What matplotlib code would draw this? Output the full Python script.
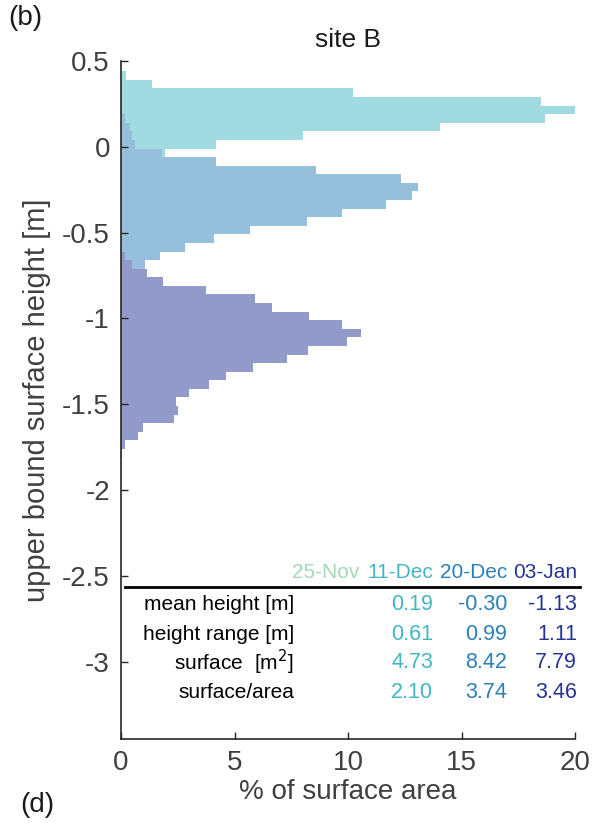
import numpy as np
import matplotlib
matplotlib.use("Agg")
import matplotlib.pyplot as plt

plt.rcParams['font.family'] = ['Liberation Sans', 'DejaVu Sans']

# ---------------- data ----------------
bin_top = 0.44          # upper edge of first height bin [m]
bin_width = 0.05        # height bin width [m]

dates = ["25-Nov", "11-Dec", "20-Dec", "03-Jan"]
date_colors = ["#a1dab4", "#41b6c4", "#2c7fb8", "#253494"]

# % of surface area per height bin (first bin index, values from top downward)
dec11_first_bin = 0
dec11_pct = [0.22, 1.37, 10.2, 18.5, 20.0, 18.7, 14.05, 8.0, 4.2, 1.94]

dec20_first_bin = 5
dec20_pct = [0.18, 0.40, 0.48, 0.62, 1.80, 4.20, 8.60, 12.33, 13.08, 12.82,
             11.67, 9.74, 8.20, 5.70, 4.10, 2.80, 1.70, 1.05]

jan03_first_bin = 21
jan03_pct = [0.18, 0.48, 1.15, 1.85, 3.74, 5.90, 6.65, 8.30, 9.74, 10.57,
             9.96, 8.24, 7.30, 5.80, 4.63, 3.88, 3.00, 2.42, 2.50, 2.33,
             0.97, 0.75, 0.18, 0.05]

row_labels = ["mean height [m]", "height range [m]", r"surface  [m$^2$]", "surface/area"]
dec11_stats = ["0.19", "0.61", "4.73", "2.10"]
dec20_stats = ["-0.30", "0.99", "8.42", "3.74"]
jan03_stats = ["-1.13", "1.11", "7.79", "3.46"]

xticks = [0, 5, 10, 15, 20]
yticks = [0.5, 0, -0.5, -1, -1.5, -2, -2.5, -3]
ytick_labels = ["0.5", "0", "-0.5", "-1", "-1.5", "-2", "-2.5", "-3"]

# ---------------- figure ----------------
fig = plt.figure(figsize=(5.92, 8.23), dpi=100)
ax = fig.add_axes([121/592, 1-739/823, 454/592, 678/823])

def light(c, a=0.5):
    rgb = np.array(matplotlib.colors.to_rgb(c))
    return tuple(rgb * a + (1 - a))

def draw_hist(first_bin, pct, color):
    idx = np.arange(first_bin, first_bin + len(pct))
    centers = bin_top - bin_width * (idx + 0.5)
    ax.barh(centers, pct, height=bin_width, color=light(color),
            edgecolor='none', align='center')

draw_hist(dec11_first_bin, dec11_pct, date_colors[1])
draw_hist(dec20_first_bin, dec20_pct, date_colors[2])
draw_hist(jan03_first_bin, jan03_pct, date_colors[3])

ax.set_xlim(0, 20)
ax.set_ylim(-3.45, 0.5)
ax.set_xticks(xticks)
ax.set_yticks(yticks)
ax.set_yticklabels(ytick_labels)
axcol = "#262626"
ax.tick_params(direction='in', length=5, width=1, colors=axcol, labelsize=20,
               labelcolor="#404040", pad=8)
for s in ['top', 'right']:
    ax.spines[s].set_visible(False)
for s in ['left', 'bottom']:
    ax.spines[s].set_color(axcol)
    ax.spines[s].set_linewidth(1.2)

ax.set_xlabel("% of surface area", fontsize=20, color="#404040", labelpad=2)
ax.set_ylabel("upper bound surface height [m]", fontsize=21, color="#404040", labelpad=8)
ax.set_title("site B", fontsize=19, color="#1a1a1a", pad=10)

fig.text(8/592, 1-18/823, "(b)", fontsize=20, va='center', ha='left', color="#1a1a1a")
fig.text(20/592, 1-805/823, "(d)", fontsize=20, va='center', ha='left', color="#1a1a1a")

# ---------------- table ----------------
def px2x(px):
    return (px - 121) / 454.0
def py2y(py):
    return 1 - (py - 61) / 678.0

tr = ax.transAxes
header_right = [359, 433, 507, 577]
for d, c, xr in zip(dates, date_colors, header_right):
    ax.text(px2x(xr), py2y(572), d, transform=tr, ha='right', va='center',
            fontsize=15, color=c, clip_on=False)
ax.plot([px2x(125), px2x(580)], [py2y(587), py2y(587)], transform=tr,
        color='black', lw=2, clip_on=False)

row_y = [605, 634, 662, 692]
for lab, yy in zip(row_labels, row_y):
    ax.text(px2x(294), py2y(yy), lab, transform=tr, ha='right', va='center',
            fontsize=15, color='black')
for stats, c, xr in zip([dec11_stats, dec20_stats, jan03_stats], date_colors[1:], header_right[1:]):
    for v, yy in zip(stats, row_y):
        ax.text(px2x(xr), py2y(yy), v, transform=tr, ha='right', va='center',
                fontsize=15.5, color=c, clip_on=False)

fig.savefig("out.png", dpi=100)
